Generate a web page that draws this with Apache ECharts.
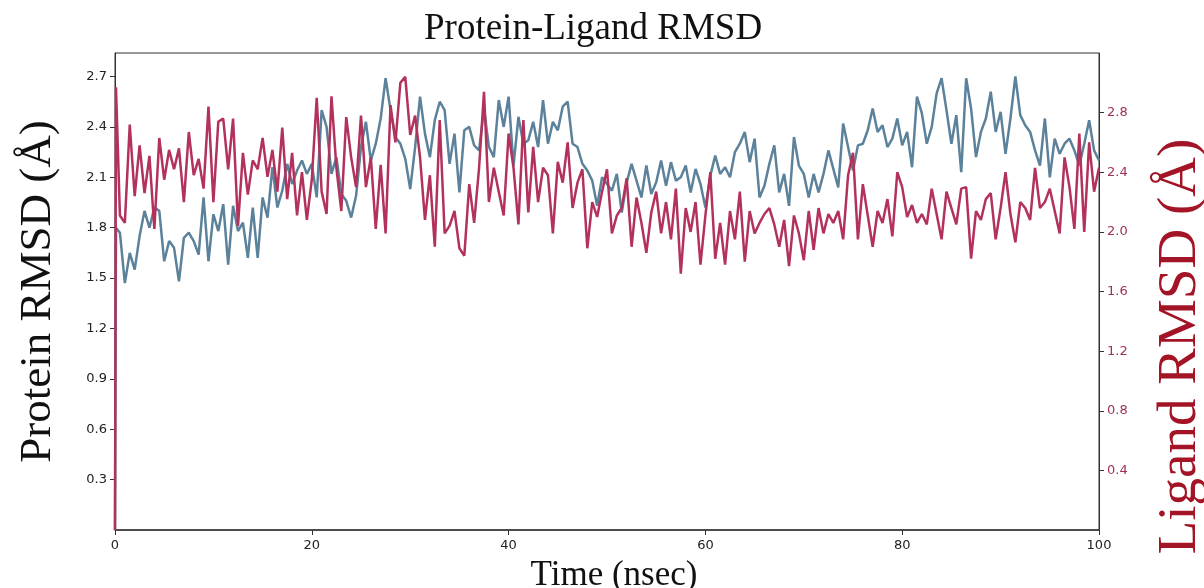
<!DOCTYPE html>
<html>
<head>
<meta charset="UTF-8">
<title>Protein-Ligand RMSD</title>
<script src="https://cdn.jsdelivr.net/npm/echarts@6/dist/echarts.min.js"></script>
</head>
<body style="margin:0;background:#fff;">
<div id="main" style="width:1204px;height:588px;"></div>
<script type="text/javascript">
// time axis (nsec): first frame, a small step, then every 0.5 ns
var timeNs = [0, 0.1];
for (var i = 1; i <= 200; i++) { timeNs.push(i * 0.5); }

// protein RMSD (left axis)
var proteinRmsd = [
  0, 1.80,
  1.77, 1.47, 1.65, 1.55, 1.75, 1.90, 1.80, 1.92, 1.90, 1.60,
  1.72, 1.68, 1.48, 1.74, 1.77, 1.72, 1.64, 1.98, 1.60, 1.88,
  1.78, 1.94, 1.58, 1.93, 1.78, 1.83, 1.62, 1.92, 1.62, 1.98,
  1.86, 2.16, 1.92, 2.02, 2.18, 2.06, 2.14, 2.20, 2.12, 2.18,
  1.98, 2.50, 2.40, 2.12, 2.22, 2.00, 1.96, 1.86, 1.99, 2.28,
  2.43, 2.20, 2.30, 2.45, 2.69, 2.50, 2.34, 2.30, 2.21, 2.03,
  2.28, 2.58, 2.36, 2.22, 2.44, 2.55, 2.50, 2.18, 2.36, 2.01,
  2.38, 2.40, 2.29, 2.26, 2.51, 2.28, 2.22, 2.56, 2.40, 2.58,
  2.17, 2.46, 2.30, 2.32, 2.43, 2.28, 2.56, 2.30, 2.43, 2.38,
  2.52, 2.55, 2.30, 2.28, 2.18, 2.14, 2.08, 1.93, 2.10, 2.06,
  2.02, 2.12, 1.89, 2.07, 2.18, 2.08, 1.98, 2.17, 2.00, 2.07,
  2.20, 2.05, 2.19, 2.08, 2.10, 2.17, 2.01, 2.15, 2.06, 1.92,
  2.11, 2.23, 2.12, 2.16, 2.10, 2.25, 2.30, 2.37, 2.19, 2.33,
  1.98, 2.05, 2.18, 2.29, 2.01, 2.12, 1.93, 2.34, 2.17, 2.12,
  1.98, 2.12, 2.01, 2.12, 2.26, 2.15, 2.04, 2.42, 2.28, 2.14,
  2.29, 2.30, 2.38, 2.51, 2.37, 2.41, 2.28, 2.33, 2.45, 2.29,
  2.37, 2.16, 2.58, 2.48, 2.30, 2.40, 2.60, 2.69, 2.50, 2.30,
  2.47, 2.13, 2.69, 2.51, 2.22, 2.37, 2.45, 2.61, 2.37, 2.49,
  2.24, 2.45, 2.70, 2.47, 2.41, 2.37, 2.26, 2.17, 2.45, 2.10,
  2.33, 2.24, 2.30, 2.33, 2.26, 2.17, 2.30, 2.44, 2.26, 2.20
];

// ligand RMSD (right axis)
var ligandRmsd = [
  0, 2.97,
  2.11, 2.06, 2.72, 2.24, 2.58, 2.26, 2.51, 2.02, 2.63, 2.35,
  2.55, 2.42, 2.56, 2.20, 2.67, 2.38, 2.49, 2.29, 2.84, 2.20,
  2.74, 2.76, 2.42, 2.76, 2.04, 2.53, 2.25, 2.48, 2.42, 2.63,
  2.37, 2.55, 2.27, 2.70, 2.22, 2.53, 2.11, 2.40, 2.08, 2.35,
  2.90, 2.27, 2.12, 2.91, 2.43, 2.14, 2.77, 2.50, 2.30, 2.78,
  2.30, 2.50, 2.02, 2.45, 1.99, 2.85, 2.60, 3.00, 3.04, 2.65,
  2.78, 2.50, 2.08, 2.38, 1.90, 2.75, 1.99, 2.04, 2.14, 1.89,
  1.84, 2.32, 2.06, 2.43, 2.94, 2.20, 2.43, 2.27, 2.11, 2.66,
  2.43, 2.05, 2.75, 2.13, 2.57, 2.20, 2.43, 2.38, 1.99, 2.47,
  2.33, 2.60, 2.16, 2.33, 2.42, 1.89, 2.20, 2.10, 2.27, 2.42,
  1.99, 2.11, 2.16, 2.36, 1.90, 2.23, 2.06, 1.86, 2.13, 2.27,
  1.99, 2.20, 1.95, 2.29, 1.72, 2.16, 2.00, 2.20, 1.78, 2.11,
  2.40, 1.82, 2.06, 1.78, 2.14, 1.95, 2.27, 1.80, 2.14, 1.99,
  2.06, 2.12, 2.16, 2.05, 1.90, 2.08, 1.77, 2.11, 1.99, 1.81,
  2.14, 1.88, 2.16, 1.99, 2.12, 2.06, 2.14, 1.95, 2.38, 2.53,
  1.95, 2.32, 2.11, 1.90, 2.14, 2.06, 2.22, 1.97, 2.40, 2.30,
  2.10, 2.18, 2.06, 2.12, 2.05, 2.29, 2.12, 1.95, 2.27, 2.16,
  2.05, 2.29, 2.30, 1.82, 2.14, 2.08, 2.22, 2.26, 1.95, 2.16,
  2.40, 2.12, 1.93, 2.20, 2.16, 2.08, 2.43, 2.16, 2.20, 2.29,
  2.14, 1.99, 2.50, 2.30, 2.02, 2.66, 2.00, 2.60, 2.27, 2.43
];

var xTicks = [0, 20, 40, 60, 80, 100];
var proteinTicks = [0.3, 0.6, 0.9, 1.2, 1.5, 1.8, 2.1, 2.4, 2.7];
var ligandTicks = [0.4, 0.8, 1.2, 1.6, 2.0, 2.4, 2.8];

var proteinColor = '#5b819b';
var ligandColor = '#b2325c';

function pairs(ys) {
  return timeNs.map(function (t, k) { return [t, ys[k]]; });
}

var myChart = echarts.init(document.getElementById('main'));

var serif = '"Liberation Serif", "DejaVu Serif", serif';
var sans = '"DejaVu Sans", sans-serif';

myChart.setOption({
  animation: false,
  backgroundColor: '#fff',
  title: {
    text: 'Protein-Ligand RMSD',
    left: 419,
    top: 6,
    textStyle: { fontFamily: serif, fontSize: 37, fontWeight: 'normal', color: '#111' }
  },
  grid: {
    left: 115, right: 105, top: 53, bottom: 58,
    containLabel: false,
    outerBoundsMode: 'none',
    show: true, borderColor: '#333', borderWidth: 1
  },
  xAxis: {
    type: 'value',
    min: 0, max: 100, interval: 20,
    name: 'Time (nsec)',
    nameLocation: 'middle',
    nameGap: 28,
    nameTextStyle: { fontFamily: serif, fontSize: 35, color: '#111', padding: [0, 0, 0, 14] },
    axisLine: { lineStyle: { color: '#333', width: 1.5 } },
    axisTick: { show: true, length: 5, lineStyle: { color: '#333' } },
    axisLabel: {
      fontFamily: sans, fontSize: 13, color: '#222', margin: 9,
      formatter: function (v) { return xTicks.indexOf(v) >= 0 ? String(v) : ''; }
    },
    splitLine: { show: false }
  },
  yAxis: [
    {
      type: 'value',
      min: 0, max: 2.84, interval: 0.3,
      position: 'left',
      name: 'Protein RMSD (Å)',
      nameLocation: 'middle',
      nameRotate: 90,
      nameGap: 54,
      nameTextStyle: { fontFamily: serif, fontSize: 45, color: '#111' },
      axisLine: { show: true, lineStyle: { color: '#333' } },
      axisTick: { show: true, length: 5, lineStyle: { color: '#333' } },
      axisLabel: {
        fontFamily: sans, fontSize: 13, color: '#222', margin: 8,
        showMinLabel: false, showMaxLabel: false,
        formatter: function (v) {
          var r = Math.round(v * 10) / 10;
          return proteinTicks.indexOf(r) >= 0 ? r.toFixed(1) : '';
        }
      },
      splitLine: { show: false }
    },
    {
      type: 'value',
      min: 0, max: 3.2, interval: 0.4,
      position: 'right',
      name: 'Ligand RMSD (Å)',
      nameLocation: 'middle',
      nameRotate: 90,
      nameGap: 54,
      nameTextStyle: { fontFamily: serif, fontSize: 55, color: '#a31526', padding: [0, 110, 0, 0] },
      axisLine: { show: true, lineStyle: { color: '#333' } },
      axisTick: { show: true, length: 5, lineStyle: { color: '#333' } },
      axisLabel: {
        fontFamily: sans, fontSize: 13, color: '#a0305e', margin: 8,
        showMinLabel: false, showMaxLabel: false,
        formatter: function (v) {
          var r = Math.round(v * 10) / 10;
          return ligandTicks.indexOf(r) >= 0 ? r.toFixed(1) : '';
        }
      },
      splitLine: { show: false }
    }
  ],
  series: [
    {
      name: 'Protein',
      type: 'line',
      yAxisIndex: 0,
      data: pairs(proteinRmsd),
      showSymbol: false,
      lineStyle: { color: proteinColor, width: 2.5 },
      z: 2
    },
    {
      name: 'Ligand',
      type: 'line',
      yAxisIndex: 1,
      data: pairs(ligandRmsd),
      showSymbol: false,
      lineStyle: { color: ligandColor, width: 2.5 },
      z: 3
    }
  ]
});
</script>
</body>
</html>
